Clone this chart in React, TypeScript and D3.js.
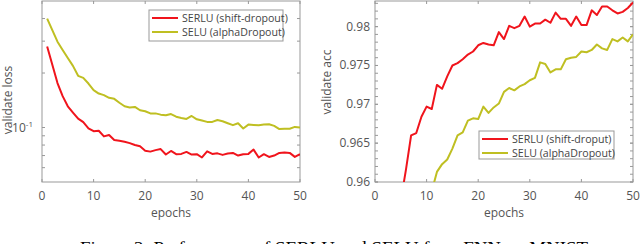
import React from "react";
import * as d3 from "d3";

// validation loss (log scale), epochs 1..50
const serluLoss = [
  0.28, 0.222, 0.176, 0.149, 0.131, 0.121, 0.112, 0.107, 0.099, 0.0955,
  0.096, 0.0893, 0.091, 0.0853, 0.0845, 0.0835, 0.082, 0.08, 0.0787, 0.0745,
  0.0736, 0.075, 0.076, 0.0709, 0.0742, 0.0712, 0.0715, 0.0733, 0.0709, 0.0712,
  0.0683, 0.0739, 0.0715, 0.072, 0.0706, 0.0718, 0.0724, 0.07, 0.0712, 0.0715,
  0.0755, 0.0683, 0.0712, 0.0688, 0.07, 0.0724, 0.0727, 0.0724, 0.0688, 0.0712,
];
const seluLoss = [
  0.4, 0.345, 0.298, 0.268, 0.242, 0.219, 0.193, 0.188, 0.175, 0.161,
  0.154, 0.151, 0.146, 0.144, 0.137, 0.131, 0.129, 0.13, 0.1245, 0.123,
  0.1197, 0.1197, 0.1178, 0.1168, 0.1187, 0.1148, 0.113, 0.1115, 0.1158, 0.111,
  0.1092, 0.1074, 0.1074, 0.1101, 0.1083, 0.1056, 0.103, 0.1056, 0.0988, 0.1038,
  0.1034, 0.103, 0.1038, 0.1043, 0.1021, 0.098, 0.0984, 0.0984, 0.1008, 0.1,
];

// validation accuracy, red from epoch 5, yellow from epoch 11
const serluAccStart = 5;
const serluAcc = [
  0.9576, 0.9616, 0.966, 0.9663, 0.9684, 0.9697, 0.9694, 0.9725, 0.972, 0.9736,
  0.975, 0.9753, 0.9758, 0.9764, 0.9768, 0.9776, 0.9779, 0.9777, 0.9776, 0.9793,
  0.9784, 0.9801, 0.9798, 0.9801, 0.9813, 0.98, 0.9804, 0.9804, 0.9809, 0.9805,
  0.9818, 0.981, 0.981, 0.9801, 0.9813, 0.9802, 0.9802, 0.9821, 0.9815, 0.9826,
  0.9826, 0.9821, 0.9817, 0.9819, 0.9824, 0.9831,
];
const seluAccStart = 11;
const seluAcc = [
  0.9588, 0.9613, 0.9623, 0.9629, 0.9643, 0.966, 0.9664, 0.9679, 0.9682, 0.9681,
  0.9697, 0.9689, 0.9696, 0.9701, 0.9716, 0.9721, 0.9718, 0.9723, 0.9726, 0.9731,
  0.9734, 0.9754, 0.9752, 0.9741, 0.9745, 0.9745, 0.9758, 0.976, 0.9761, 0.9768,
  0.9767, 0.977, 0.9777, 0.9772, 0.977, 0.9784, 0.9781, 0.9786, 0.9781, 0.979,
];

const xTicks = [0, 10, 20, 30, 40, 50];
const lossMinorTicks = [0.06, 0.07, 0.08, 0.09, 0.2, 0.3, 0.4];
const accTicks = [0.96, 0.965, 0.97, 0.975, 0.98];
const accMinorTicks = d3.range(0.96, 0.9835, 0.001);

const RED = "#f0141c";
const YELLOW = "#bfbf22";
const AXIS = "#999";
const TEXT = "#555";
const FONT = "'Open Sans', sans-serif";

const leftBox = { x0: 42, x1: 300, y0: 1, y1: 182 };
const rightBox = { x0: 375, x1: 633, y0: 1, y1: 182 };

type Pt = [number, number];

function Frame({ box, x, yTicks, yMinor, id }: any) {
  const tl = 3;
  return (
    <g>
      <rect x={box.x0} y={box.y0} width={box.x1 - box.x0} height={box.y1 - box.y0} fill="#fff" stroke={AXIS} />
      {xTicks.map((t) => (
        <g key={"x" + t}>
          <line x1={x(t)} x2={x(t)} y1={box.y1} y2={box.y1 - tl} stroke={AXIS} />
          <line x1={x(t)} x2={x(t)} y1={box.y0} y2={box.y0 + tl} stroke={AXIS} />
          <text x={x(t)} y={200} textAnchor="middle" fontSize={12} fill={TEXT} fontFamily={FONT}>{t}</text>
        </g>
      ))}
      {[...yTicks, ...yMinor].map((yy: number, i: number) => (
        <g key={id + i}>
          <line x1={box.x0} x2={box.x0 + tl} y1={yy} y2={yy} stroke={AXIS} />
          <line x1={box.x1} x2={box.x1 - tl} y1={yy} y2={yy} stroke={AXIS} />
        </g>
      ))}
      <text x={(box.x0 + box.x1) / 2} y={217} textAnchor="middle" fontSize={12} fill={TEXT} fontFamily={FONT}>epochs</text>
    </g>
  );
}

function Legend({ x, y, w, h, labels }: any) {
  return (
    <g>
      <rect x={x} y={y} width={w} height={h} fill="#fff" stroke={AXIS} />
      {labels.map((l: any, i: number) => {
        const yy = y + 8 + i * 14;
        return (
          <g key={l.text}>
            <line x1={x + 3} x2={x + 29} y1={yy} y2={yy} stroke={l.color} strokeWidth={2} />
            <text x={x + 33} y={yy + 4} fontSize={10.6} fill="#444" fontFamily={FONT}>{l.text}</text>
          </g>
        );
      })}
    </g>
  );
}

export default function App() {
  // left: loss
  const xL = d3.scaleLinear().domain([0, 50]).range([leftBox.x0, leftBox.x1]);
  const yL = d3.scaleLog().domain([0.05, 0.5]).range([leftBox.y1, leftBox.y0]);
  const lineL = d3.line<Pt>().x((d) => xL(d[0])).y((d) => yL(d[1]));
  const lossR: Pt[] = serluLoss.map((v, i) => [i + 1, v]);
  const lossY: Pt[] = seluLoss.map((v, i) => [i + 1, v]);

  // right: acc
  const xR = d3.scaleLinear().domain([0, 50]).range([rightBox.x0, rightBox.x1]);
  const yR = d3.scaleLinear().domain([0.96, 0.9833]).range([rightBox.y1, rightBox.y0]);
  const lineR = d3.line<Pt>().x((d) => xR(d[0])).y((d) => yR(d[1]));
  const accR: Pt[] = serluAcc.map((v, i) => [i + serluAccStart, v]);
  const accY: Pt[] = seluAcc.map((v, i) => [i + seluAccStart, v]);

  return (
    <svg width={640} height={244} style={{ position: "absolute", left: 0, top: 0, background: "#fff" }}>
      <defs>
        <clipPath id="clipL">
          <rect x={leftBox.x0} y={leftBox.y0} width={leftBox.x1 - leftBox.x0} height={leftBox.y1 - leftBox.y0} />
        </clipPath>
        <clipPath id="clipR">
          <rect x={rightBox.x0} y={rightBox.y0} width={rightBox.x1 - rightBox.x0} height={rightBox.y1 - rightBox.y0} />
        </clipPath>
      </defs>
      <rect width={640} height={244} fill="#fff" />

      <Frame box={leftBox} x={xL} yTicks={[yL(0.1)]} yMinor={lossMinorTicks.map((t) => yL(t))} id="l" />
      <g clipPath="url(#clipL)" fill="none" strokeWidth={2} strokeLinejoin="round">
        <path d={lineL(lossY)!} stroke={YELLOW} />
        <path d={lineL(lossR)!} stroke={RED} />
      </g>
      <text x={leftBox.x0 - 9} y={yL(0.1) + 4} textAnchor="end" fontSize={12} fill={TEXT} fontFamily={FONT}>
        10<tspan dy={-5} fontSize={8}>-1</tspan>
      </text>
      <text transform={`translate(12,100) rotate(-90)`} textAnchor="middle" fontSize={12} fill={TEXT} fontFamily={FONT}>validate loss</text>
      <Legend x={149} y={10} w={134} h={31}
        labels={[{ text: "SERLU (shift-dropout)", color: RED }, { text: "SELU (alphaDropout)", color: YELLOW }]} />

      <Frame box={rightBox} x={xR} yTicks={accTicks.map((t) => yR(t))} yMinor={accMinorTicks.map((t) => yR(t))} id="r" />
      <g clipPath="url(#clipR)" fill="none" strokeWidth={2} strokeLinejoin="round">
        <path d={lineR(accY)!} stroke={YELLOW} />
        <path d={lineR(accR)!} stroke={RED} />
      </g>
      {accTicks.map((t) => (
        <text key={t} x={rightBox.x0 - 5} y={yR(t) + 4} textAnchor="end" fontSize={12} fill={TEXT} fontFamily={FONT}>{t}</text>
      ))}
      <text transform={`translate(331,82) rotate(-90)`} textAnchor="middle" fontSize={12} fill={TEXT} fontFamily={FONT}>validate acc</text>
      <Legend x={479} y={131} w={135} h={28}
        labels={[{ text: "SERLU (shift-droput)", color: RED }, { text: "SELU (alphaDropout)", color: YELLOW }]} />

      <text x={80} y={253} textLength={508} lengthAdjust="spacingAndGlyphs" fontSize={17} fontFamily="'Liberation Serif', serif" fill="#000">
        Figure 2: Performance of SERLU and SELU for a FNN on MNIST
      </text>
    </svg>
  );
}
